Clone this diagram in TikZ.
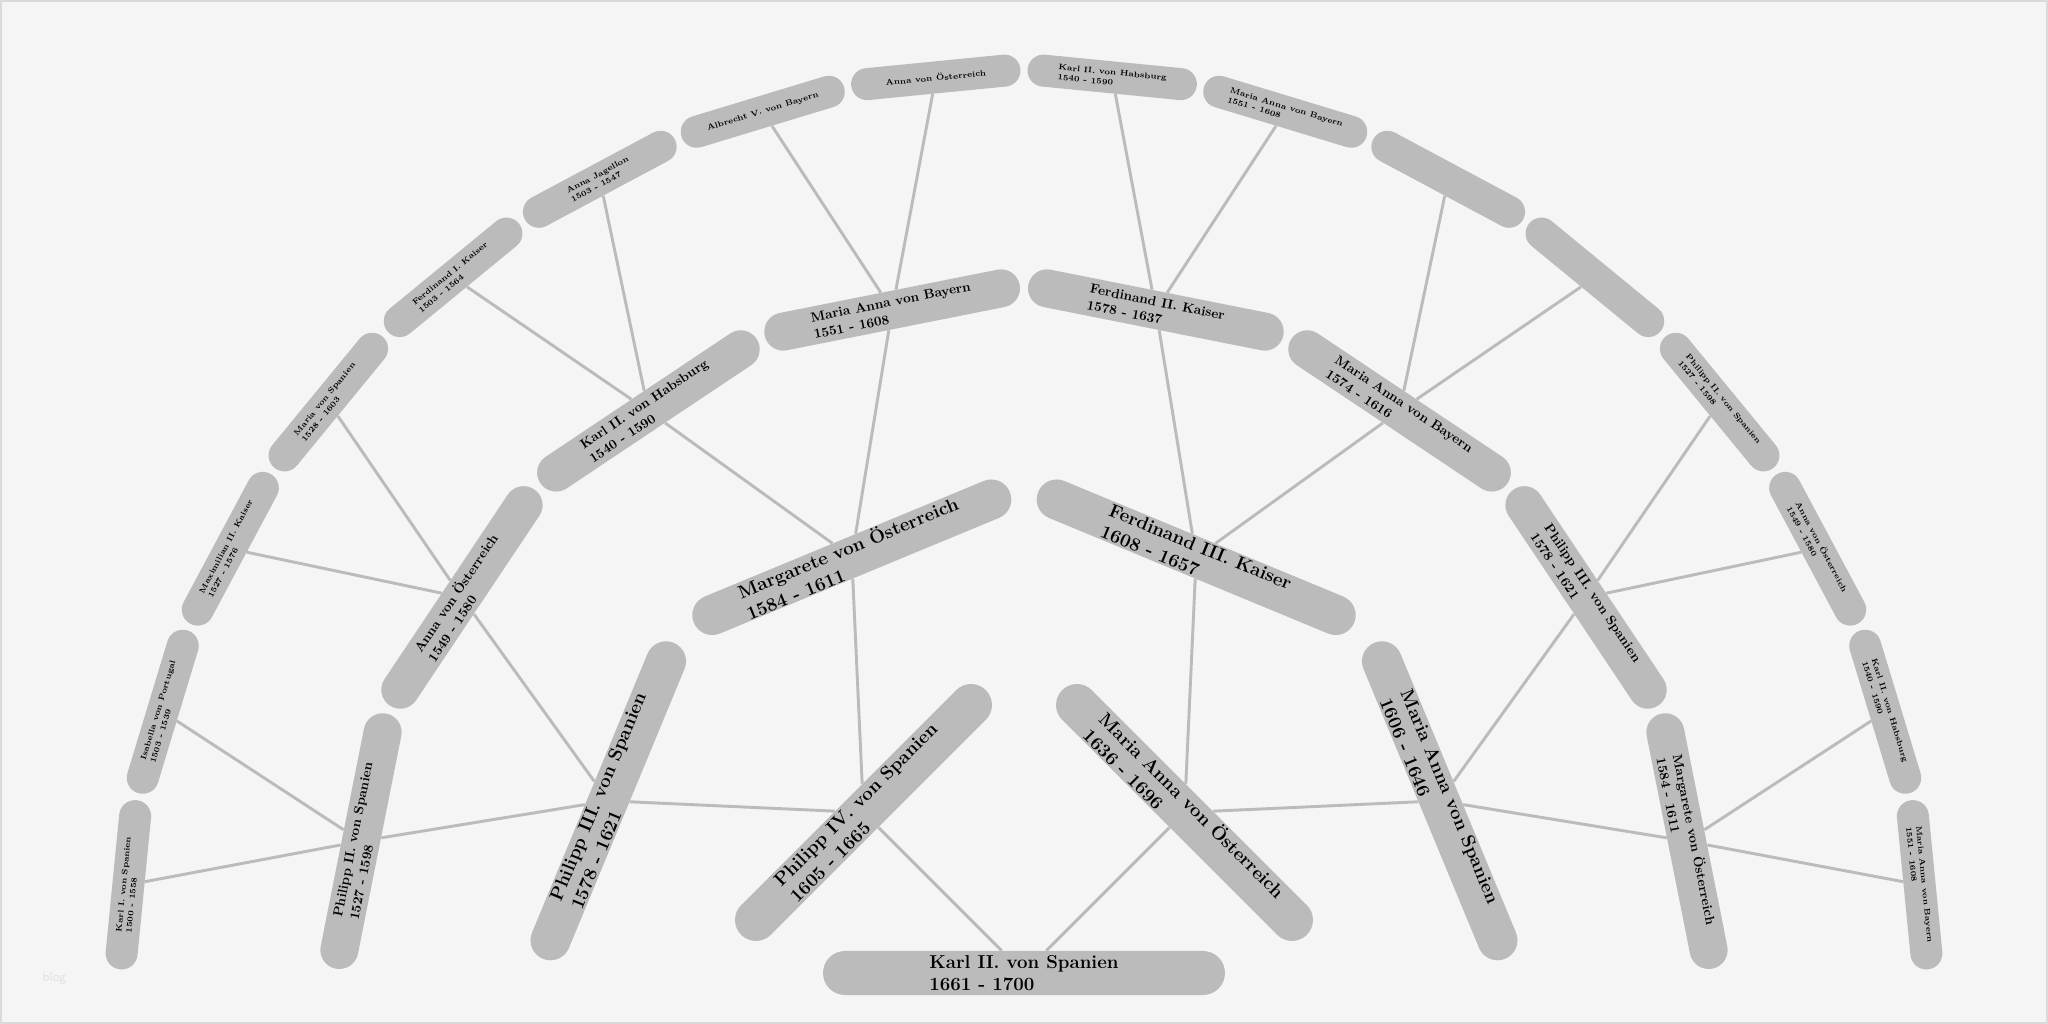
\documentclass[tikz,border=0pt]{standalone}
\usepackage{tikz}
\usetikzlibrary{shapes.misc}

\definecolor{pillgray}{HTML}{BBBBBB}
\definecolor{paper}{HTML}{F5F5F5}
\definecolor{framegray}{HTML}{DADADA}
\definecolor{markgray}{HTML}{E0E0E0}

\begin{document}
\begin{tikzpicture}[x=0.75pt,y=0.75pt,
    pill/.style={rounded rectangle, fill=pillgray, inner sep=0pt, align=left, text=black},
    root/.style={pill, minimum width=301.5pt, minimum height=33pt, font=\bfseries\fontsize{14}{17}\selectfont},
    gen1/.style={pill, minimum width=259.5pt, minimum height=31.5pt, font=\bfseries\fontsize{14}{17}\selectfont},
    gen2/.style={pill, minimum width=256.5pt, minimum height=30pt, font=\bfseries\fontsize{14}{17}\selectfont},
    gen3/.style={pill, minimum width=195pt, minimum height=28.5pt, font=\bfseries\fontsize{10}{12.5}\selectfont},
    gen4/.style={pill, minimum width=127.5pt, minimum height=24pt, font=\bfseries\fontsize{6}{7.5}\selectfont},
    link/.style={draw=pillgray, line width=2.2pt}]

            % Paper
            \useasboundingbox (-1024,-51) rectangle (1024,973);
            \fill [paper] (-1024,-51) rectangle (1024,973);
            \draw [framegray, line width=1.5pt] (-1023,-50) rectangle (1023,972);
            \node [markgray, font=\sffamily\fontsize{10}{10}\selectfont, anchor=west] (mark) at (-986,-5) {blog};

            % Karl II.
            \node [root] (karl) at (0,0) {Karl II. von Spanien\\1661 - 1700};

            % Parents
            \node [gen1, rotate=45]  (g1a) at (135:227) {Philipp IV. von Spanien\\1605 - 1665};
            \node [gen1, rotate=-45] (g1b) at ( 45:227) {Maria Anna von Österreich\\1636 - 1696};

            % Grandparents
            \node [gen2, rotate=67.5]  (g2a) at (157.5:450) {Philipp III. von Spanien\\1578 - 1621};
            \node [gen2, rotate=22.5]  (g2b) at (112.5:450) {Margarete von Österreich\\1584 - 1611};
            \node [gen2, rotate=-22.5] (g2c) at ( 67.5:450) {Ferdinand III. Kaiser\\1608 - 1657};
            \node [gen2, rotate=-67.5] (g2d) at ( 22.5:450) {Maria Anna von Spanien\\1606 - 1646};

            % Great-grandparents
            \node [gen3, rotate=78.75]  (g3a) at (168.75:676) {Philipp II. von Spanien\\1527 - 1598};
            \node [gen3, rotate=56.25]  (g3b) at (146.25:676) {Anna von Österreich\\1549 - 1580};
            \node [gen3, rotate=33.75]  (g3c) at (123.75:676) {Karl II. von Habsburg\\1540 - 1590};
            \node [gen3, rotate=11.25]  (g3d) at (101.25:676) {Maria Anna von Bayern\\1551 - 1608};
            \node [gen3, rotate=-11.25] (g3e) at ( 78.75:676) {Ferdinand II. Kaiser\\1578 - 1637};
            \node [gen3, rotate=-33.75] (g3f) at ( 56.25:676) {Maria Anna von Bayern\\1574 - 1616};
            \node [gen3, rotate=-56.25] (g3g) at ( 33.75:676) {Philipp III. von Spanien\\1578 - 1621};
            \node [gen3, rotate=-78.75] (g3h) at ( 11.25:676) {Margarete von Österreich\\1584 - 1611};

            % Great-great-grandparents
            \node [gen4, rotate=84.375]  (g4a) at (174.375:900) {Karl I. von Spanien\\1500 - 1558};
            \node [gen4, rotate=73.125]  (g4b) at (163.125:900) {Isabella von Portugal\\1503 - 1539};
            \node [gen4, rotate=61.875]  (g4c) at (151.875:900) {Maximilian II. Kaiser\\1527 - 1576};
            \node [gen4, rotate=50.625]  (g4d) at (140.625:900) {Maria von Spanien\\1528 - 1603};
            \node [gen4, rotate=39.375]  (g4e) at (129.375:900) {Ferdinand I. Kaiser\\1503 - 1564};
            \node [gen4, rotate=28.125]  (g4f) at (118.125:900) {Anna Jagellon\\1503 - 1547};
            \node [gen4, rotate=16.875]  (g4g) at (106.875:900) {Albrecht V. von Bayern};
            \node [gen4, rotate=5.625]   (g4h) at ( 95.625:900) {Anna von Österreich};
            \node [gen4, rotate=-5.625]  (g4i) at ( 84.375:900) {Karl II. von Habsburg\\1540 - 1590};
            \node [gen4, rotate=-16.875] (g4j) at ( 73.125:900) {Maria Anna von Bayern\\1551 - 1608};
            \node [gen4, rotate=-28.125] (g4k) at ( 61.875:900) {};
            \node [gen4, rotate=-39.375] (g4l) at ( 50.625:900) {};
            \node [gen4, rotate=-50.625] (g4m) at ( 39.375:900) {Philipp II. von Spanien\\1527 - 1598};
            \node [gen4, rotate=-61.875] (g4n) at ( 28.125:900) {Anna von Österreich\\1549 - 1580};
            \node [gen4, rotate=-73.125] (g4o) at ( 16.875:900) {Karl II. von Habsburg\\1540 - 1590};
            \node [gen4, rotate=-84.375] (g4p) at (  5.625:900) {Maria Anna von Bayern\\1551 - 1608};

            % Lines to Karl II.
            \draw [link] (g1a) -- (karl);
            \draw [link] (g1b) -- (karl);

            % Lines to parents
            \draw [link] (g2a) -- (g1a);
            \draw [link] (g2b) -- (g1a);
            \draw [link] (g2c) -- (g1b);
            \draw [link] (g2d) -- (g1b);

            % Lines to grandparents
            \draw [link] (g3a) -- (g2a);
            \draw [link] (g3b) -- (g2a);
            \draw [link] (g3c) -- (g2b);
            \draw [link] (g3d) -- (g2b);
            \draw [link] (g3e) -- (g2c);
            \draw [link] (g3f) -- (g2c);
            \draw [link] (g3g) -- (g2d);
            \draw [link] (g3h) -- (g2d);

            % Lines to great-grandparents
            \draw [link] (g4a) -- (g3a);
            \draw [link] (g4b) -- (g3a);
            \draw [link] (g4c) -- (g3b);
            \draw [link] (g4d) -- (g3b);
            \draw [link] (g4e) -- (g3c);
            \draw [link] (g4f) -- (g3c);
            \draw [link] (g4g) -- (g3d);
            \draw [link] (g4h) -- (g3d);
            \draw [link] (g4i) -- (g3e);
            \draw [link] (g4j) -- (g3e);
            \draw [link] (g4k) -- (g3f);
            \draw [link] (g4l) -- (g3f);
            \draw [link] (g4m) -- (g3g);
            \draw [link] (g4n) -- (g3g);
            \draw [link] (g4o) -- (g3h);
            \draw [link] (g4p) -- (g3h);

\end{tikzpicture}
\end{document}
